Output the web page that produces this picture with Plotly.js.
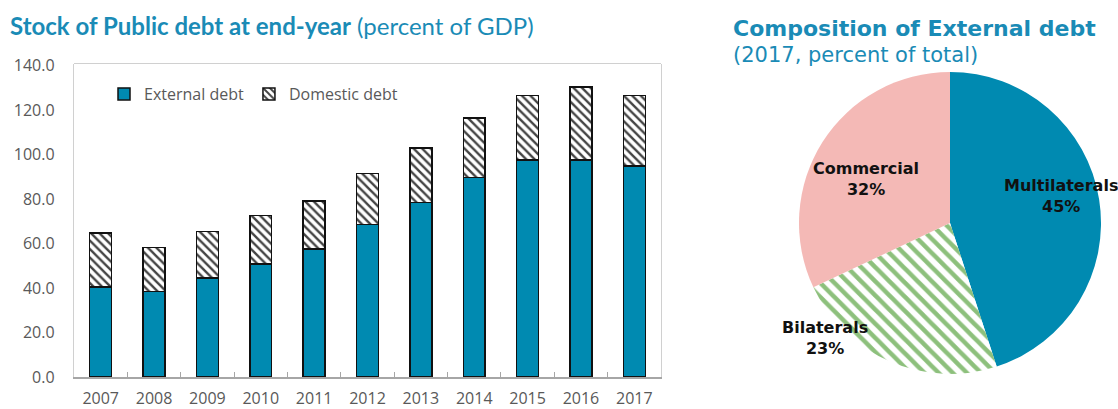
<!DOCTYPE html>
<html>
<head>
<meta charset="utf-8">
<script src="https://cdn.plot.ly/plotly-3.0.1.min.js"></script>
<style>html,body{margin:0;padding:0;background:#fff;}#chart{width:1118px;height:409px;}</style>
</head>
<body>
<div id="chart"></div>
<script>
// ---- Data ----
const years = ['2007','2008','2009','2010','2011','2012','2013','2014','2015','2016','2017'];
const externalDebt = [40.4, 38.5, 44.5, 50.9, 57.5, 68.7, 78.4, 89.7, 97.6, 97.6, 94.9];
const domesticDebt = [24.3, 19.7, 20.9, 21.7, 21.7, 22.9, 24.5, 26.9, 28.9, 32.8, 31.6];
const pieLabels = ['Multilaterals', 'Bilaterals', 'Commercial'];
const pieValues = [45, 23, 32];
const yTickVals = [0, 20, 40, 60, 80, 100, 120, 140];

const blue = '#008ab1';
const titleBlue = '#1a8bb6';
const grey = '#595959';

const traces = [
  {
    type: 'bar', name: 'External debt', x: years, y: externalDebt,
    marker: {color: blue, line: {color: '#111', width: 1.5}},
    xaxis: 'x', yaxis: 'y', hoverinfo: 'skip'
  },
  {
    type: 'bar', name: 'Domestic debt', x: years, y: domesticDebt,
    marker: {color: 'white', line: {color: '#111', width: 1.5},
      pattern: {shape: '\\', fgcolor: '#444', bgcolor: 'white', size: 6, solidity: 0.4}},
    xaxis: 'x', yaxis: 'y', hoverinfo: 'skip'
  },
  {
    type: 'pie', labels: pieLabels, values: pieValues, sort: false,
    direction: 'clockwise', rotation: 0, showlegend: false,
    textinfo: 'none', hoverinfo: 'skip',
    marker: {
      colors: [blue, 'white', '#f4b9b6'],
      line: {width: 0},
      pattern: {shape: ['', '\\', ''], fgcolor: '#8dc07c', bgcolor: 'white', size: 10, solidity: 0.45}
    },
    domain: {x: [(950-151)/1118, (950+151)/1118], y: [(409-374)/409, (409-72)/409]}
  }
];

// pie labels placed as annotations, text built from data
const labelPos = [[1061, 196], [825, 338], [866, 179]];
const pieTotal = pieValues.reduce((a, b) => a + b, 0);
const pieAnn = pieLabels.map((l, i) => ({
  xref: 'paper', yref: 'paper',
  x: labelPos[i][0] / 1118, y: 1 - labelPos[i][1] / 409,
  xanchor: 'center', yanchor: 'middle', showarrow: false,
  text: '<b>' + l + '<br>' + Math.round(pieValues[i] / pieTotal * 100) + '%</b>',
  font: {family: 'DejaVu Sans', size: 16, color: '#111'}
}));

const layout = {
  width: 1118, height: 409,
  margin: {l: 0, r: 0, t: 0, b: 0},
  paper_bgcolor: 'white', plot_bgcolor: 'white',
  barmode: 'stack', bargap: 0.59,
  font: {family: 'Open Sans', color: grey, size: 16},
  title: {
    text: '<b>Stock of Public debt at end-year</b> (percent of GDP)',
    x: 10/1118, xanchor: 'left', y: 1 - 27/409, yanchor: 'middle',
    font: {family: 'Lato', size: 24, color: titleBlue}
  },
  xaxis: {
    domain: [74/1118, 661/1118], type: 'category',
    showline: true, linecolor: '#a6a6a6', linewidth: 1.5,
    ticks: 'inside', tickson: 'boundaries', ticklen: 5, tickcolor: '#a6a6a6',
    ticklabelstandoff: 6,
    tickfont: {family: 'Open Sans', size: 16, color: grey},
    showgrid: false, zeroline: false, fixedrange: true
  },
  yaxis: {
    domain: [(409-377)/409, (409-63.5)/409], range: [0, 141],
    tickvals: yTickVals, tickformat: '.1f',
    showline: true, mirror: true, linecolor: '#d0d0d0', linewidth: 1.2,
    ticks: '', ticklabelstandoff: 15,
    tickfont: {family: 'Open Sans', size: 16, color: grey},
    showgrid: false, zeroline: false, fixedrange: true
  },
  shapes: [{
    type: 'line', xref: 'x domain', yref: 'y domain', x0: 0, x1: 1, y0: 1, y1: 1,
    line: {color: '#d0d0d0', width: 1.2}
  }],
  legend: {
    orientation: 'h', x: 104/1118, y: 1 - 94/409, xanchor: 'left', yanchor: 'middle',
    bgcolor: 'rgba(0,0,0,0)', font: {family: 'Open Sans', size: 16, color: grey},
    traceorder: 'normal', itemwidth: 30
  },
  annotations: [
    {
      xref: 'paper', yref: 'paper', x: 731/1118, y: 1 - 29/409, xanchor: 'left', yanchor: 'middle',
      showarrow: false, text: '<b>Composition of External debt</b>',
      font: {family: 'DejaVu Sans', size: 22, color: titleBlue}
    },
    {
      xref: 'paper', yref: 'paper', x: 731/1118, y: 1 - 55/409, xanchor: 'left', yanchor: 'middle',
      showarrow: false, text: '(2017, percent of total)',
      font: {family: 'DejaVu Sans', size: 21, color: titleBlue}
    }
  ].concat(pieAnn)
};

Plotly.newPlot('chart', traces, layout, {displayModeBar: false, staticPlot: true});
</script>
</body>
</html>
